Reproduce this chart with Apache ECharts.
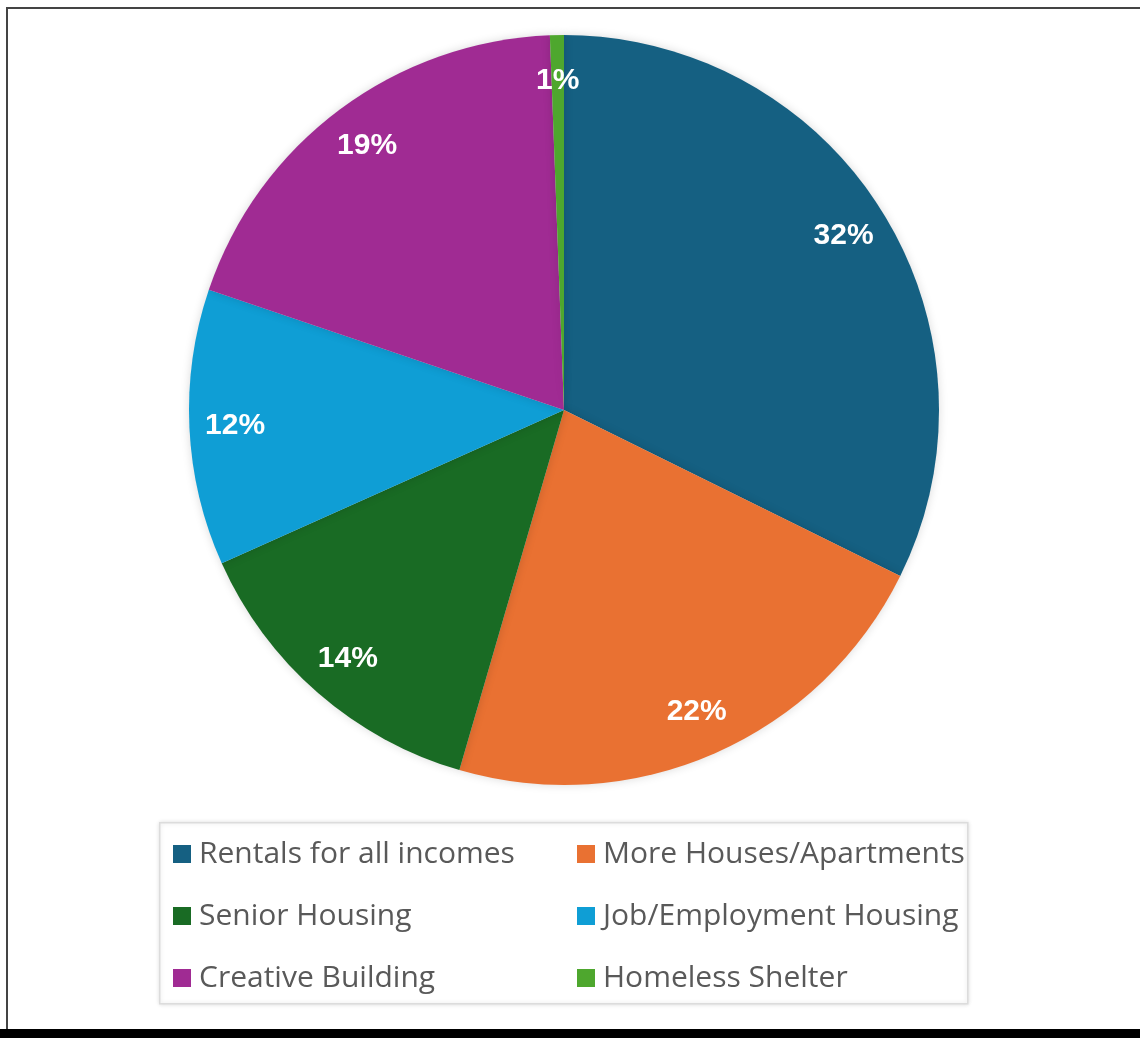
<!DOCTYPE html>
<html>
<head>
<meta charset="utf-8">
<script src="https://cdn.jsdelivr.net/npm/echarts@6/dist/echarts.min.js"></script>
<style>
html,body{margin:0;padding:0;background:#fff;}
#chart{width:1140px;height:1038px;}
</style>
</head>
<body>
<div id="chart"></div>
<script>
const categories = ['Rentals for all incomes','More Houses/Apartments','Senior Housing','Job/Employment Housing','Creative Building','Homeless Shelter'];
const values = [32.3, 22.2, 13.8, 11.9, 19.2, 0.6];
const colors = ['#156082','#E97132','#196B24','#0F9ED5','#A02B93','#4EA72E'];
const leftLegend = ['Rentals for all incomes','Senior Housing','Creative Building'];
const rightLegend = ['More Houses/Apartments','Job/Employment Housing','Homeless Shelter'];

const data = categories.map((c,i)=>({name:c, value:values[i], itemStyle:{color:colors[i]}}));
const R = 375;
const legendCommon = {
  orient:'vertical', top:839, padding:0, itemWidth:18, itemHeight:18, itemGap:32,
  icon:'rect', selectedMode:false,
  textStyle:{fontFamily:'Open Sans', fontSize:30, color:'#595959', padding:[0,0,0,3]}
};
const chart = echarts.init(document.getElementById('chart'));
chart.setOption({
  animation:false,
  backgroundColor:'#fff',
  graphic:[
    {type:'rect', left:159, top:822, shape:{width:808, height:181}, style:{fill:'#fff', stroke:'#dcdcdc', lineWidth:1.5, shadowBlur:4, shadowColor:'rgba(0,0,0,0.12)'}, z:-1},
    {type:'line', shape:{x1:7, y1:8, x2:1140, y2:8}, style:{stroke:'#444', lineWidth:2}},
    {type:'line', shape:{x1:7, y1:7, x2:7, y2:1030}, style:{stroke:'#444', lineWidth:2}},
    {type:'rect', shape:{x:0, y:1029, width:1140, height:9}, style:{fill:'#000'}}
  ],
  legend:[
    Object.assign({left:173, data:leftLegend}, legendCommon),
    Object.assign({left:577, data:rightLegend}, legendCommon)
  ],
  series:[
    {
      type:'pie', center:[564,410], radius:[0,R], startAngle:90, clockwise:true,
      data:data, label:{show:false}, labelLine:{show:false},
      itemStyle:{shadowBlur:10, shadowColor:'rgba(0,0,0,0.15)'},
      emphasis:{disabled:true}
    },
    {
      type:'pie', center:[564,410], radius:[0.74*R,R], startAngle:90, clockwise:true,
      percentPrecision:0,
      data:data.map(d=>({name:d.name, value:d.value})), silent:true,
      itemStyle:{color:'rgba(0,0,0,0)'},
      label:{show:true, position:'inside', formatter:'{d}%', color:'#fff', fontWeight:'bold', fontSize:30, fontFamily:'Liberation Sans'},
      labelLine:{show:false}, emphasis:{disabled:true}
    }
  ]
});
</script>
</body>
</html>
